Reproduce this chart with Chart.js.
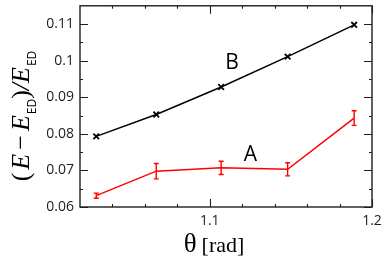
<!DOCTYPE html>
<html><head><meta charset="utf-8">
<script src="https://cdn.jsdelivr.net/npm/chart.js@4"></script>
<style>html,body{margin:0;padding:0;background:#fff}#wrap{width:381px;height:259px}</style>
</head><body><div id="wrap"><canvas id="c" width="381" height="259"></canvas></div>
<script>
const thetaValues=[1.030,1.067,1.107,1.148,1.189];
const seriesB=[0.0793,0.0853,0.0928,0.1011,0.1098];
const seriesA=[0.0631,0.0698,0.0707,0.0703,0.0843];
const errorsA=[0.0007,0.0021,0.0018,0.0018,0.0020];
const yTicks=[0.06,0.07,0.08,0.09,0.10,0.11];
const yMinorTicks=[0.065,0.075,0.085,0.095,0.105];
const xTicks=[1.1,1.2];
const xMinorTicks=[1.04,1.06,1.08,1.12,1.14,1.16,1.18];
const labelNames=['B','A'];
const labelX=[1.1137,1.125];
const labelY=[0.0976,0.0727];

const AX='#1e1e1e';
const frame={
  id:'frame',
  afterDatasetsDraw(chart){
    const ctx=chart.ctx,x=chart.scales.x,y=chart.scales.y;
    ctx.save();
    ctx.strokeStyle='#ff0000';ctx.lineWidth=1.4;
    seriesA.forEach((v,i)=>{
      const px=x.getPixelForValue(thetaValues[i]);
      const t=y.getPixelForValue(v+errorsA[i]),b=y.getPixelForValue(v-errorsA[i]);
      ctx.beginPath();
      ctx.moveTo(px,t);ctx.lineTo(px,b);
      ctx.moveTo(px-2.5,t);ctx.lineTo(px+2.5,t);
      ctx.moveTo(px-2.5,b);ctx.lineTo(px+2.5,b);
      ctx.stroke();
    });
    ctx.restore();
  },
  afterDraw(chart){
    const ctx=chart.ctx,a=chart.chartArea,x=chart.scales.x,y=chart.scales.y;
    ctx.save();
    ctx.strokeStyle=AX;ctx.lineWidth=1.4;
    ctx.strokeRect(a.left,a.top,a.right-a.left,a.bottom-a.top);
    ctx.lineWidth=1.1;
    ctx.beginPath();
    const tk=(v,len)=>{const p=Math.round(x.getPixelForValue(v))+0.5;
      ctx.moveTo(p,a.bottom);ctx.lineTo(p,a.bottom-len);
      ctx.moveTo(p,a.top);ctx.lineTo(p,a.top+len);};
    const tkY=(v,len)=>{const p=Math.round(y.getPixelForValue(v))+0.5;
      ctx.moveTo(a.left,p);ctx.lineTo(a.left+len,p);
      ctx.moveTo(a.right,p);ctx.lineTo(a.right-len,p);};
    xTicks.forEach(v=>tk(v,8));xMinorTicks.forEach(v=>tk(v,3));
    yTicks.forEach(v=>tkY(v,8));yMinorTicks.forEach(v=>tkY(v,3));
    ctx.stroke();
    ctx.fillStyle='#000';ctx.font='21px "Open Sans"';ctx.textAlign='center';ctx.textBaseline='alphabetic';
    labelNames.forEach((n,i)=>ctx.fillText(n,x.getPixelForValue(labelX[i]),y.getPixelForValue(labelY[i])));
    ctx.textAlign='left';
    ctx.font='27px "Liberation Serif"';
    const th='θ',rad='[rad]';
    const w1=ctx.measureText(th).width;
    ctx.font='22px "Liberation Serif"';
    const w2=ctx.measureText(rad).width;
    const gap=5,tot=w1+gap+w2;
    let sx=(a.left+a.right)/2-tot/2-12;
    ctx.font='27px "Liberation Serif"';ctx.fillText(th,sx,252);
    ctx.font='22px "Liberation Serif"';ctx.fillText(rad,sx+w1+gap,252);
    const pieces=[
      ['(', '26px "Liberation Serif"',0,3],
      ['E','italic 26px "Liberation Serif"',0,4],
      ['\u2212','26px "Liberation Serif"',0,4],
      ['E','italic 26px "Liberation Serif"',0,1],
      ['ED','12px "Open Sans"',7,0],
      [')','26px "Liberation Serif"',0,0],
      ['/','italic 26px "Liberation Serif"',0,0],
      ['E','italic 26px "Liberation Serif"',0,1],
      ['ED','12px "Open Sans"',7,0]
    ];
    let total=0;
    pieces.forEach(p=>{ctx.font=p[1];p.push(ctx.measureText(p[0]).width);total+=p[4]+p[3];});
    ctx.translate(28.5,116);ctx.rotate(-Math.PI/2);
    let u=-total/2;
    pieces.forEach(p=>{ctx.font=p[1];ctx.fillText(p[0],u,p[2]);u+=p[4]+p[3];});
    ctx.restore();
  }
};

new Chart(document.getElementById('c'),{
  type:'scatter',
  data:{datasets:[
    {label:'B',data:thetaValues.map((t,i)=>({x:t,y:seriesB[i]})),showLine:true,borderColor:'#000',backgroundColor:'#000',
     borderWidth:1.5,pointStyle:'crossRot',pointRadius:4,pointBorderWidth:1.8,pointBorderColor:'#000'},
    {label:'A',data:thetaValues.map((t,i)=>({x:t,y:seriesA[i]})),showLine:true,borderColor:'#ff0000',backgroundColor:'#ff0000',
     borderWidth:1.5,pointRadius:0}
  ]},
  options:{
    responsive:false,animation:false,
    layout:{padding:{left:0,right:9,top:1,bottom:0}},
    plugins:{legend:{display:false},tooltip:{enabled:false}},
    scales:{
      x:{type:'linear',min:1.02,max:1.2,
        grid:{display:false,drawTicks:false},border:{display:false},
        afterBuildTicks:s=>{s.ticks=xTicks.map(v=>({value:v}));},
        afterFit:s=>{s.height=52;s.paddingLeft=0;s.paddingRight=0;},
        ticks:{padding:6,color:AX,font:{family:'Open Sans',size:14},maxRotation:0,callback:v=>String(+v.toFixed(2))}},
      y:{type:'linear',min:0.06,max:0.115,
        grid:{display:false,drawTicks:false},border:{display:false},
        afterBuildTicks:s=>{s.ticks=yTicks.map(v=>({value:v}));},
        afterFit:s=>{s.width=80;s.paddingTop=0;s.paddingBottom=0;},
        ticks:{padding:6,color:AX,font:{family:'Open Sans',size:14},callback:v=>String(+v.toFixed(2))}}
    }
  },
  plugins:[frame]
});
</script></body></html>
